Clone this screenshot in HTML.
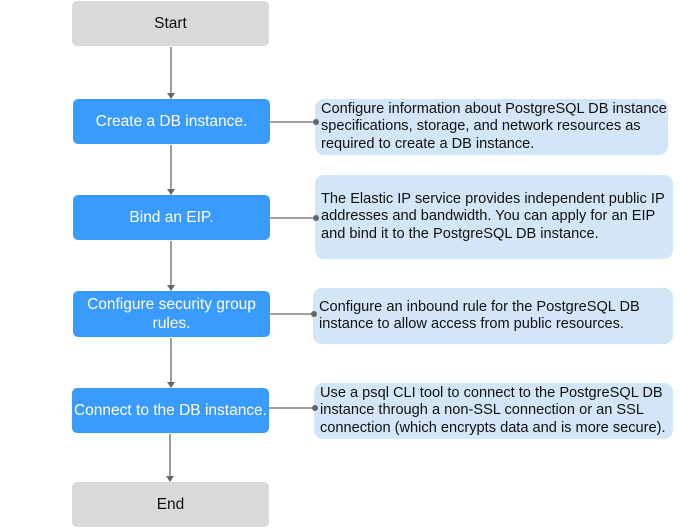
<!DOCTYPE html>
<html><head><style>
body{margin:0;width:680px;height:528px;background:#fff;position:relative;overflow:hidden;font-family:"Liberation Sans",Arial,sans-serif}
.n{position:absolute;display:flex;align-items:center;justify-content:center;text-align:center;border-radius:5px;font-size:15.5px;line-height:19px}
.g{background:#d9d9d9;color:#111}
.b{background:#3a9bff;color:#fff}
.d{position:absolute;background:#d3e6f8;border-radius:9px;font-size:14.6px;line-height:17.5px;color:#111;display:flex;align-items:center;padding-left:6px;box-sizing:border-box;white-space:nowrap}
svg{position:absolute;left:0;top:0}
</style></head><body>
<svg width="680" height="528">
<g stroke="#666" stroke-width="1.3" fill="none">
<line x1="171" y1="47" x2="171" y2="94"/>
<line x1="171" y1="145" x2="171" y2="190"/>
<line x1="171" y1="241" x2="171" y2="286"/>
<line x1="171" y1="338" x2="171" y2="383"/>
<line x1="170" y1="434" x2="170" y2="477"/>
<line x1="268" y1="122" x2="316" y2="122"/>
<line x1="268" y1="218" x2="316" y2="218"/>
<line x1="268" y1="314" x2="314" y2="314"/>
<line x1="268" y1="408" x2="315" y2="408"/>
</g>
<g fill="#666">
<polygon points="167,93 175,93 171,99"/>
<polygon points="167,189 175,189 171,195"/>
<polygon points="167,285 175,285 171,291"/>
<polygon points="167,382 175,382 171,388"/>
<polygon points="166,476 174,476 170,482"/>
</g>
</svg>
<div class="n g" style="left:72px;top:1px;width:197px;height:45px">Start</div>
<div class="n b" style="left:73px;top:99px;width:197px;height:45px">Create a DB instance.</div>
<div class="n b" style="left:73px;top:195px;width:197px;height:45px">Bind an EIP.</div>
<div class="n b" style="left:73px;top:291px;width:197px;height:46px">Configure security group<br>rules.</div>
<div class="n b" style="left:72px;top:388px;width:197px;height:45px">Connect to the DB instance.</div>
<div class="n g" style="left:72px;top:482px;width:197px;height:45px">End</div>
<div class="d" style="left:315px;top:99px;width:353px;height:56px">Configure information about PostgreSQL DB instance<br>specifications, storage, and network resources as<br>required to create a DB instance.</div>
<div class="d" style="left:315px;top:175px;width:358px;height:84px">The Elastic IP service provides independent public IP<br>addresses and bandwidth. You can apply for an EIP<br>and bind it to the PostgreSQL DB instance.</div>
<div class="d" style="left:313px;top:288px;width:360px;height:56px">Configure an inbound rule for the PostgreSQL DB<br>instance to allow access from public resources.</div>
<div class="d" style="left:314px;top:383px;width:359px;height:56px">Use a psql CLI tool to connect to the PostgreSQL DB<br>instance through a non-SSL connection or an SSL<br>connection (which encrypts data and is more secure).</div>
<svg width="680" height="528"><g fill="#666">
<circle cx="316" cy="122" r="3"/><circle cx="316" cy="218" r="3"/><circle cx="314" cy="314" r="3"/><circle cx="315" cy="408" r="3"/>
</g></svg>
</body></html>
